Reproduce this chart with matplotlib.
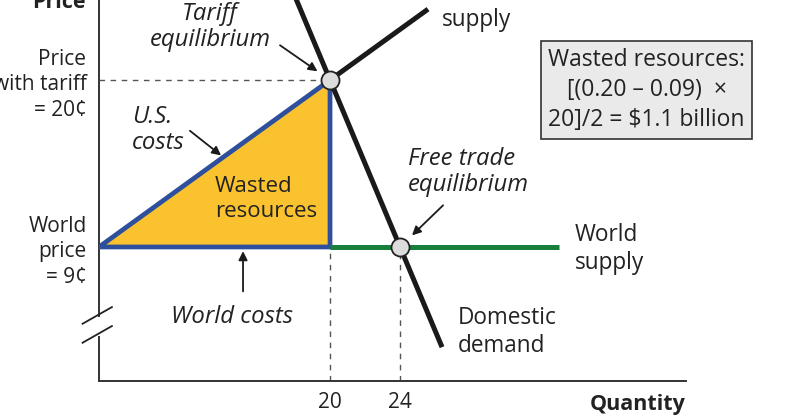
import matplotlib
matplotlib.use('Agg')
import numpy as np
from matplotlib import pyplot as plt
from matplotlib import transforms

plt.rcParams['font.family'] = ['Open Sans', 'DejaVu Sans']

# quantities (billions of units) and prices (cents)
world_price = 9
tariff_price = 20
q_tariff = 20
q_free = 24
q_supply_start = 6.8     # where domestic supply meets the world price
q_supply_end = 25.6
q_demand_top = 17.8
q_demand_end = 26.4
q_world_end = 33.1
x_ticks = [20, 24]
x_tick_labels = ['20', '24']
y_ticks = [9, 20]
y_tick_labels = ['World\nprice\n= 9\u00a2', 'Price\nwith tariff\n= 20\u00a2']
box_text = 'Wasted resources:\n[(0.20 \u2013 0.09)  \u00d7\n20]/2 = $1.1 billion'

BLACK = '#1a1a1a'
BLUE = '#2d4f9c'
GOLD = '#f9c22e'
GREEN = '#17803c'
GREY = '#dcdcdc'
TXT = '#222222'
FS_TICK = 15
FS = 16.3
FS_IT = 17.2


def supply(q):
    return world_price + (q - q_supply_start) * (tariff_price - world_price) / (q_tariff - q_supply_start)


def demand(q):
    return tariff_price - (q - q_tariff) * (tariff_price - world_price) / (q_free - q_tariff)


fig = plt.figure(figsize=(8, 4.19), dpi=100)
ax = fig.add_axes([99 / 800, 38 / 419, (686 - 99) / 800, 381 / 419])
ax.set_xlim(q_supply_start, 40.34)
ax.set_ylim(0.17, 25.27)

for s in ['top', 'right', 'left']:
    ax.spines[s].set_visible(False)
ax.spines['bottom'].set_color('#333333')
ax.spines['bottom'].set_linewidth(1.4)

# y axis drawn by hand, with a break
brk_lo, brk_hi = 3.14, 4.39
ax.plot([q_supply_start] * 2, [0.17, brk_lo], color='#333333', lw=1.4, clip_on=False, solid_capstyle='butt')
ax.plot([q_supply_start] * 2, [brk_hi, 25.6], color='#333333', lw=1.4, clip_on=False, solid_capstyle='butt')
trans = transforms.blended_transform_factory(ax.transAxes, ax.transData)
for yb in [brk_lo - 0.45, brk_hi - 0.45]:
    ax.plot([-0.028, 0.022], [yb, yb + 1.1], color=TXT, lw=1.3, transform=trans, clip_on=False)

ax.set_xticks(x_ticks)
ax.set_xticklabels(x_tick_labels, fontsize=FS_TICK, color=TXT)
ax.set_yticks(y_ticks)
ax.set_yticklabels(y_tick_labels, fontsize=FS_TICK, color=TXT, linespacing=1.3)
ax.tick_params(axis='x', length=0, pad=8)
ax.tick_params(axis='y', length=0, pad=9)

# dashed guides
ax.plot([q_supply_start, q_tariff], [tariff_price] * 2, ls=(0, (4, 4)), color='#555555', lw=1)
ax.plot([q_tariff, q_tariff], [0.17, world_price], ls=(0, (4, 4)), color='#555555', lw=1)
ax.plot([q_free, q_free], [0.17, world_price], ls=(0, (4, 4)), color='#555555', lw=1)

# wasted resources triangle
tri_q = [q_supply_start, q_tariff, q_tariff]
tri_p = [world_price, tariff_price, world_price]
ax.fill(tri_q, tri_p, color=GOLD, zorder=2)
ax.plot(tri_q + [q_supply_start], tri_p + [world_price], color=BLUE, lw=3.4, zorder=3, solid_joinstyle='miter')

# world supply
ax.plot([q_tariff, q_world_end], [world_price] * 2, color=GREEN, lw=3.6, zorder=3, solid_capstyle='butt')

# domestic supply above tariff point and domestic demand
ax.plot([q_tariff, q_supply_end], [tariff_price, supply(q_supply_end)], color=BLACK, lw=3.6, zorder=4,
        solid_capstyle='butt')
ax.plot([q_demand_top, q_demand_end], [demand(q_demand_top), demand(q_demand_end)], color=BLACK, lw=3.6, zorder=4,
        solid_capstyle='butt', clip_on=False)

ax.plot([q_tariff, q_free], [tariff_price, world_price], 'o', ms=13, mfc=GREY, mec=TXT, mew=1.3, zorder=5)

# labels
fig.text(86 / 800, 1 - 2 / 419, 'Price', fontsize=15.5, fontweight='bold', ha='right', va='center', color=TXT)
ax.text(40.34, -1.38, 'Quantity', fontsize=15.5, fontweight='bold', ha='right', va='center', color=TXT)

arrow = dict(arrowstyle='-|>', color=BLACK, lw=1.3, mutation_scale=13)
ax.text(13.14, 23.5, 'Tariff\nequilibrium', fontsize=FS_IT, style='italic', ha='center', va='center',
        linespacing=1.15, color=TXT)
ax.annotate('', xy=(q_tariff, tariff_price), xytext=(-36, 25), textcoords='offset points',
            arrowprops=dict(arrow, shrinkA=0, shrinkB=11))
ax.text(8.69, 16.71, 'U.S.\ncosts', fontsize=FS_IT, style='italic', ha='left', va='center', linespacing=1.15,
        color=TXT)
ax.annotate('', xy=(13.9, supply(13.9)), xytext=(-24, 19), textcoords='offset points',
            arrowprops=dict(arrow, shrinkA=0, shrinkB=2))
ax.text(13.43, 12.16, 'Wasted\nresources', fontsize=16, ha='left', va='center', linespacing=1.2, color=TXT)
ax.text(14.4, 4.39, 'World costs', fontsize=FS_IT, style='italic', ha='center', va='center', color=TXT)
ax.annotate('', xy=(15.03, world_price), xytext=(0, -32), textcoords='offset points',
            arrowprops=dict(arrow, shrinkA=0, shrinkB=3))
ax.text(24.46, 13.94, 'Free trade\nequilibrium', fontsize=FS_IT, style='italic', ha='left', va='center',
        linespacing=1.15, color=TXT)
ax.annotate('', xy=(q_free, world_price), xytext=(31, 30), textcoords='offset points',
            arrowprops=dict(arrow, shrinkA=0, shrinkB=12))
ax.text(34.0, 8.88, 'World\nsupply', fontsize=FS, ha='left', va='center', linespacing=1.2, color=TXT)
ax.text(27.31, 3.4, 'Domestic\ndemand', fontsize=FS, ha='left', va='center', linespacing=1.2, color=TXT)
ax.text(26.4, 24.84, 'Domestic\nsupply', fontsize=FS, ha='left', va='center', linespacing=1.2, color=TXT,
        clip_on=False)
ax.text(38.09, 19.34, box_text, fontsize=16.5, ha='center', va='center', multialignment='center',
        linespacing=1.32, color=TXT, bbox=dict(boxstyle='square,pad=0.3', fc='#eaeaea', ec='#333333', lw=1.2))

fig.savefig('out.png', dpi=100)
